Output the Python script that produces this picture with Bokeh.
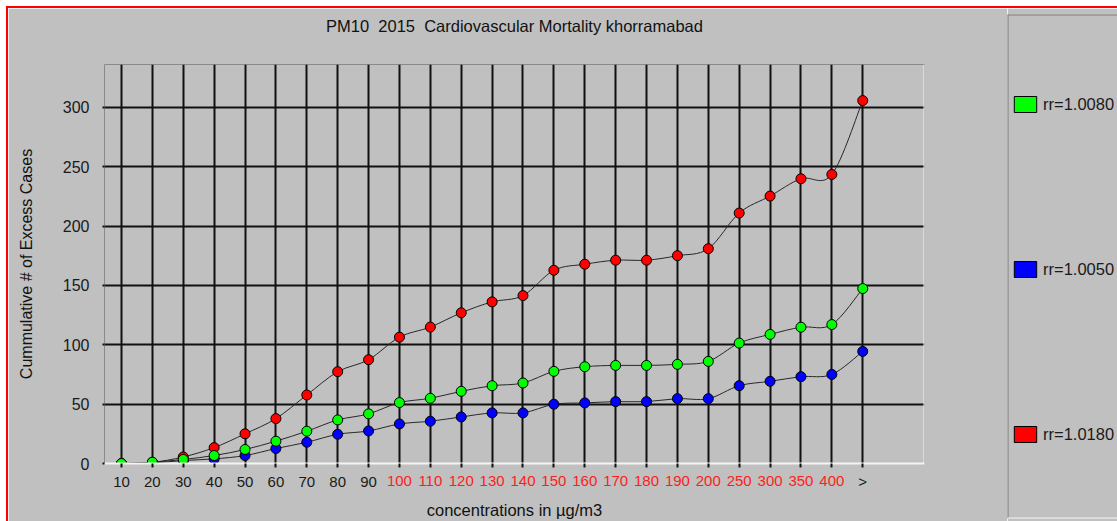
from bokeh.plotting import figure
from bokeh.layouts import row
from bokeh.models import (Range1d, FixedTicker, LinearAxis, Legend, LegendItem, Span)
from bokeh.embed import file_html
from bokeh.resources import INLINE

# ---------------- data ----------------
categories = ["10", "20", "30", "40", "50", "60", "70", "80", "90", "100", "110", "120",
              "130", "140", "150", "160", "170", "180", "190", "200", "250", "300", "350",
              "400", ">"]
red_label_cats = ["100", "110", "120", "130", "140", "150", "160", "170", "180", "190",
                  "200", "250", "300", "350", "400"]

rr_1_0080 = [0, 1.1, 3.4, 6.7, 11.8, 18.8, 27.2, 36.7, 41.8, 51.3, 54.9, 60.8, 65.5, 67.8,
             77.6, 81.5, 82.6, 82.6, 83.5, 86.0, 101.4, 108.7, 114.8, 117.0, 147.3]
rr_1_0050 = [0, 0.5, 2.5, 3.9, 6.7, 12.6, 17.9, 24.6, 27.4, 33.3, 35.6, 39.2, 42.6, 42.6,
             49.9, 51.0, 52.1, 52.1, 54.6, 54.6, 65.5, 69.2, 73.1, 75.0, 94.4]
rr_1_0180 = [0, 1.0, 5.5, 13.4, 25.0, 37.8, 57.7, 77.3, 87.4, 106.4, 114.9, 126.9, 136.1,
             141.4, 162.7, 167.8, 171.2, 171.2, 175.0, 180.9, 210.9, 225.2, 239.8, 243.4, 305.6]

y_ticks = [0, 50, 100, 150, 200, 250, 300]
series_names = ["rr=1.0080", "rr=1.0050", "rr=1.0180"]
series_colors = ["#00ff00", "#0000ff", "#ff0000"]

FONT = "Liberation Sans"
BG = "#c0c0c0"
DARK = "#1a1a1a"
RED_TXT = "#ff1c1c"
NB = "\u00a0"
chart_title = f"PM10{NB}{NB}2015{NB}{NB}Cardiovascular Mortality khorramabad"

x_idx = list(range(len(categories)))
series = {"rr=1.0080": rr_1_0080, "rr=1.0050": rr_1_0050, "rr=1.0180": rr_1_0180}
colors = dict(zip(series_names, series_colors))

# ---------------- main chart ----------------
p = figure(width=999, height=513, output_backend="svg", toolbar_location=None,
           title=None,
           x_range=Range1d(-0.55, 26.0), y_range=Range1d(0, 336),
           min_border_left=96, min_border_right=83, min_border_top=56, min_border_bottom=57,
           background_fill_color=BG, border_fill_color=BG)

xa = p.below[0]
ya = p.left[0]

p.outline_line_color = "#8a8a8a"
p.outline_line_width = 1

p.xgrid.ticker = FixedTicker(ticks=x_idx)
p.xgrid.grid_line_color = "#101010"
p.xgrid.grid_line_width = 2
p.ygrid.ticker = FixedTicker(ticks=y_ticks[1:])
p.ygrid.grid_line_color = "#101010"
p.ygrid.grid_line_width = 2

# x axis: dark labels + ticks
xa.ticker = FixedTicker(ticks=x_idx)
xa.major_label_overrides = {i: ("" if c in red_label_cats else c) for i, c in enumerate(categories)}
xa.major_label_text_font = FONT
xa.major_label_text_font_size = "15px"
xa.major_label_text_color = DARK
xa.major_label_standoff = 5
xa.major_tick_in = 0
xa.major_tick_out = 4
xa.major_tick_line_width = 2
xa.major_tick_line_color = "#101010"
xa.minor_tick_line_color = None
xa.axis_line_color = "#f4f4f4"
xa.axis_line_width = 2

# second x axis: red labels pulled onto the same row
xa2 = LinearAxis(ticker=FixedTicker(ticks=x_idx))
xa2.major_label_overrides = {i: (c if c in red_label_cats else "") for i, c in enumerate(categories)}
xa2.major_label_text_font = FONT
xa2.major_label_text_font_size = "15px"
xa2.major_label_text_color = RED_TXT
xa2.major_label_standoff = -17
xa2.major_tick_in = 0
xa2.major_tick_out = 0
xa2.major_tick_line_color = None
xa2.minor_tick_line_color = None
xa2.axis_line_color = None
xa2.axis_label = "concentrations in \u00b5g/m3"
xa2.axis_label_text_font = FONT
xa2.axis_label_text_font_size = "16.5px"
xa2.axis_label_text_font_style = "normal"
xa2.axis_label_text_color = "#111111"
xa2.axis_label_standoff = 12
p.add_layout(xa2, "below")

# chart title carried by a bare axis above the plot area
ta = LinearAxis(ticker=FixedTicker(ticks=[]), major_tick_line_color=None,
                minor_tick_line_color=None, axis_line_color=None,
                major_tick_out=0, major_tick_in=0, major_label_standoff=0)
ta.axis_label = chart_title
ta.axis_label_text_font = FONT
ta.axis_label_text_font_size = "16.5px"
ta.axis_label_text_font_style = "normal"
ta.axis_label_text_color = "#111111"
ta.axis_label_standoff = 30
p.add_layout(ta, "above")

# y axis
ya.ticker = FixedTicker(ticks=y_ticks)
ya.major_label_text_font = FONT
ya.major_label_text_font_size = "16px"
ya.major_label_text_color = DARK
ya.major_label_standoff = 13
ya.major_tick_in = 0
ya.major_tick_out = 2
ya.major_tick_line_width = 2
ya.major_tick_line_color = "#101010"
ya.minor_tick_line_color = None
ya.axis_line_color = None
ya.axis_label = "Cummulative # of Excess Cases"
ya.axis_label_text_font = FONT
ya.axis_label_text_font_size = "16px"
ya.axis_label_text_font_style = "normal"
ya.axis_label_text_color = "#111111"
ya.axis_label_standoff = 25

p.add_layout(Span(location=26.0, dimension="height", line_color="#f4f4f4", line_width=2))


def bezier_parts(ys):
    n = len(ys)
    xs = list(range(n))
    out = dict(x0=[], y0=[], x1=[], y1=[], cx0=[], cy0=[], cx1=[], cy1=[])
    for i in range(n - 1):
        i0, i1, i2, i3 = max(i - 1, 0), i, i + 1, min(i + 2, n - 1)
        out["x0"].append(xs[i1]); out["y0"].append(ys[i1])
        out["x1"].append(xs[i2]); out["y1"].append(ys[i2])
        out["cx0"].append(xs[i1] + (xs[i2] - xs[i0]) / 6.0)
        out["cy0"].append(ys[i1] + (ys[i2] - ys[i0]) / 6.0)
        out["cx1"].append(xs[i2] - (xs[i3] - xs[i1]) / 6.0)
        out["cy1"].append(ys[i2] - (ys[i3] - ys[i1]) / 6.0)
    return out


for name in ["rr=1.0050", "rr=1.0180", "rr=1.0080"]:
    ys = series[name]
    p.bezier(source=bezier_parts(ys), x0="x0", y0="y0", x1="x1", y1="y1", cx0="cx0",
             cy0="cy0", cx1="cx1", cy1="cy1", line_color="#282828", line_width=1)
    p.scatter(x=x_idx, y=ys, size=10, fill_color=colors[name], line_color="#000000",
              line_width=1)

# ---------------- legend panel ----------------
pl = figure(width=110, height=513, output_backend="svg", toolbar_location=None,
            x_range=Range1d(0, 1), y_range=Range1d(0, 1),
            x_axis_type=None, y_axis_type=None,
            min_border_left=0, min_border_right=0, min_border_top=6, min_border_bottom=3,
            background_fill_color=BG, border_fill_color=BG)
if "frame_align" in pl.properties():
    pl.frame_align = False
    p.frame_align = False
pl.grid.visible = False
pl.outline_line_color = None
pl.add_layout(Span(location=0, dimension="height", line_color="#7a7a7a", line_width=2))
pl.add_layout(Span(location=1, dimension="width", line_color="#7a7a7a", line_width=2))
pl.add_layout(Span(location=0, dimension="width", line_color="#f0f0f0", line_width=2))

items = []
for name in series_names:
    r = pl.vbar(x=x_idx, top=series[name], width=0.5, fill_color=colors[name],
                line_color="#000000", line_width=1, visible=False)
    items.append(LegendItem(label=name, renderers=[r]))

legend = Legend(items=items, location=(4, 74), orientation="vertical", spacing=145,
                glyph_width=28, glyph_height=20, label_height=20, label_standoff=4,
                padding=0, margin=0, border_line_color=None, background_fill_alpha=0,
                label_text_font=FONT, label_text_font_size="16.5px",
                label_text_color=DARK)
pl.add_layout(legend, "center")

lay = row(p, pl)
lay.margin = (8, 0, 0, 8)
lay.styles = {"outline": "2px solid #ff0000"}

open("out.html", "w").write(file_html(lay, INLINE))
